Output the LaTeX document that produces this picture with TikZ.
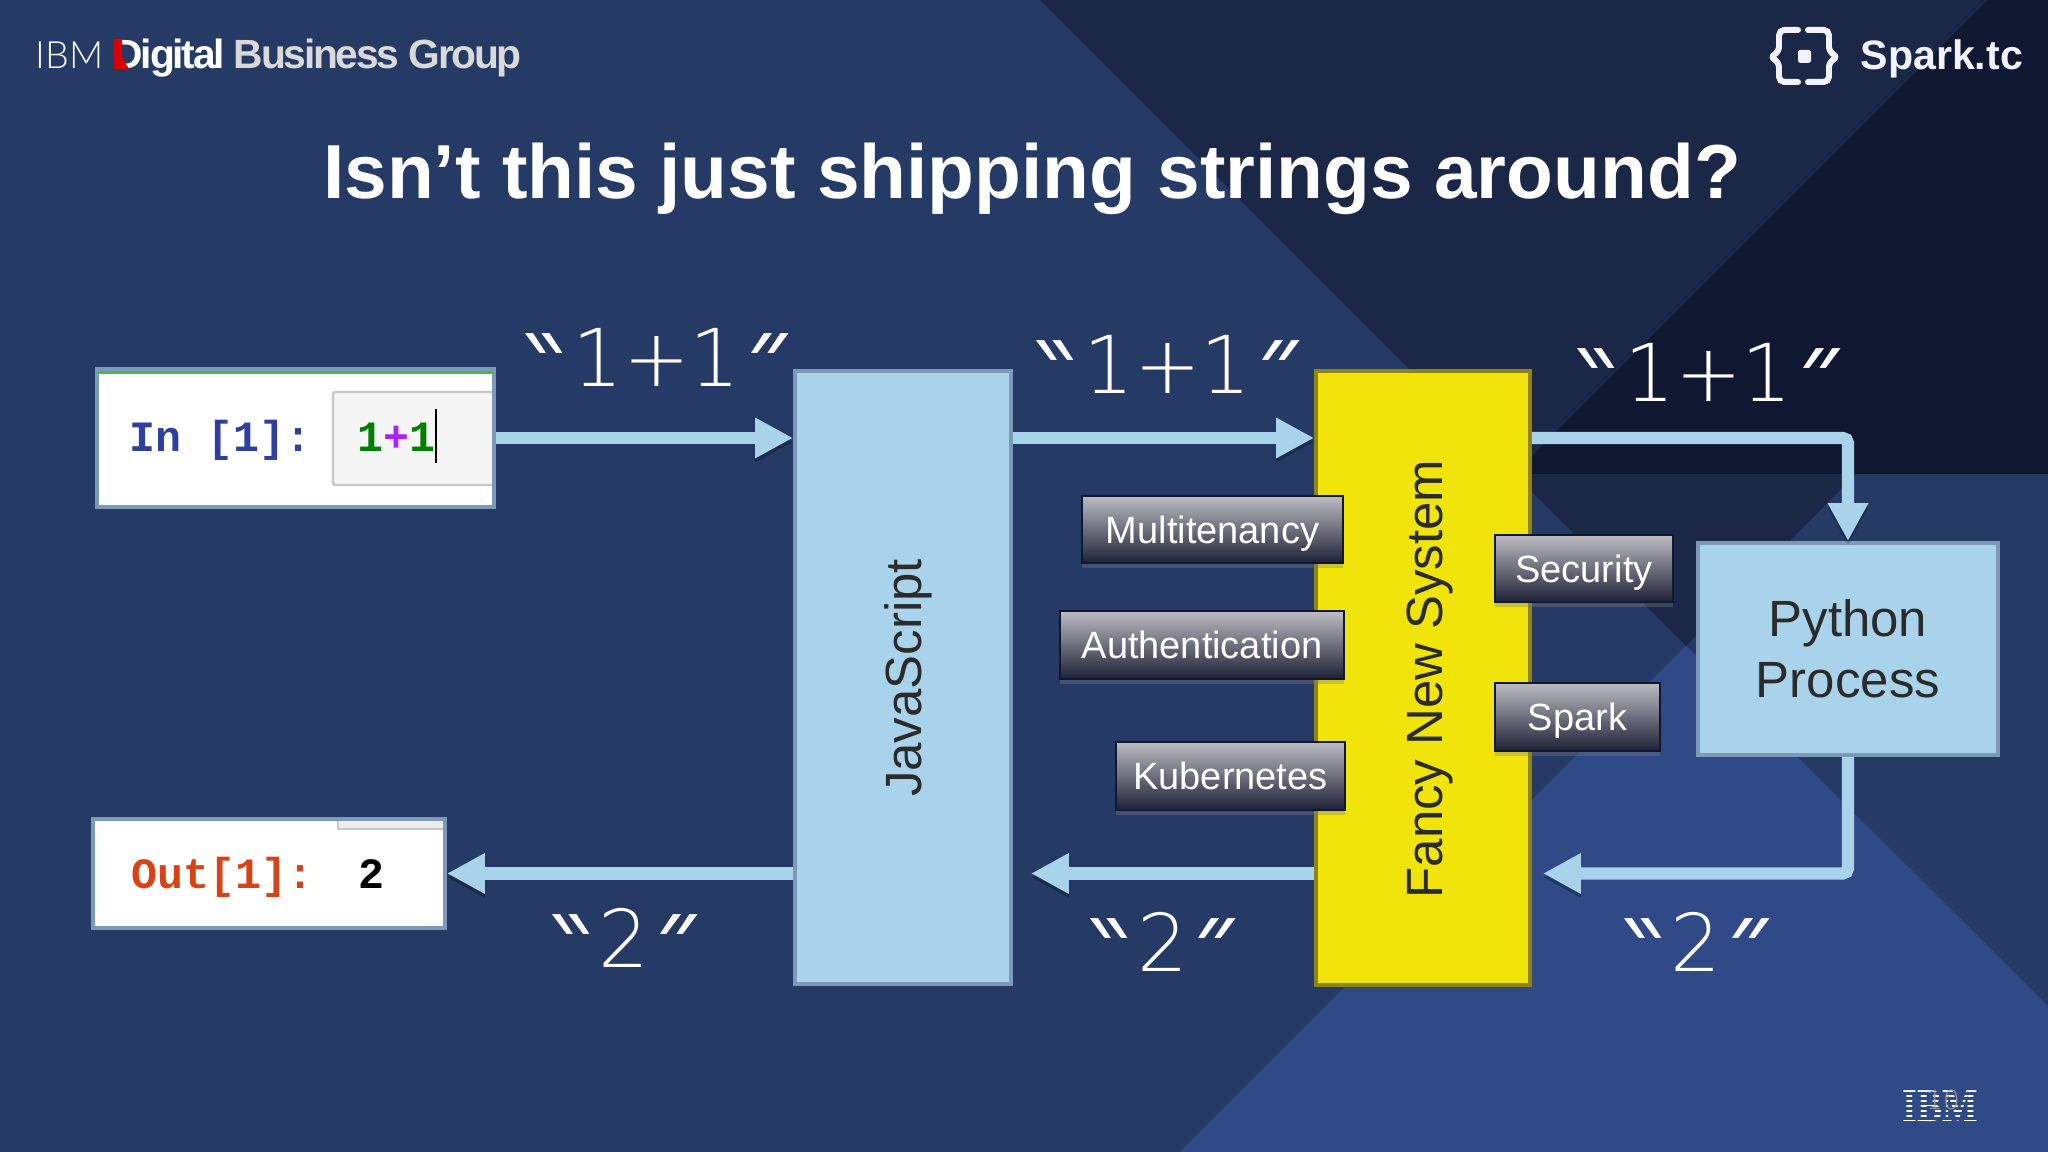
\documentclass[tikz,border=0pt]{standalone}
\usepackage{xcolor}
\usepackage{fontspec}
\usepackage{tikz}
\usetikzlibrary{arrows.meta,shadows}
\setmainfont{Liberation Sans}
\setmonofont{Liberation Mono}
\IfFontExistsTF{DejaVu Sans ExtraLight}{\newfontfamily\thinfont{DejaVu Sans ExtraLight}}{\newfontfamily\thinfont{DejaVu Sans}}
\IfFontExistsTF{Lato Light}{\newfontfamily\lightfont{Lato Light}}{\newfontfamily\lightfont{Lato}}
\newfontfamily\logofont[LetterSpace=-5.5]{Liberation Sans}
\newfontfamily\ibmfont[FakeStretch=0.8]{Liberation Serif}
\newfontfamily\qleftfont[FakeSlant=-0.7]{Liberation Sans}
\newfontfamily\qrightfont[FakeSlant=0.7]{Liberation Sans}
\newcommand{\quoted}[1]{%
  \llap{\raisebox{-0.1cm}{\qleftfont\fontsize{26}{30}\selectfont"}\hspace{-0.26cm}}%
  #1%
  \rlap{\hspace{-0.24cm}\raisebox{-0.1cm}{\qrightfont\fontsize{26}{30}\selectfont"}}%
}
\definecolor{basebg}{HTML}{263A66}
\definecolor{darkbg}{HTML}{1A2747}
\definecolor{deepbg}{HTML}{101730}
\definecolor{lightbg}{HTML}{2F4A86}
\definecolor{skyfill}{HTML}{A9D3EB}
\definecolor{skyedge}{HTML}{7C9AB5}
\definecolor{fancyfill}{HTML}{F0E40A}
\definecolor{fancyedge}{HTML}{8F8314}
\definecolor{inkdark}{HTML}{2B2B2B}
\definecolor{promptblue}{HTML}{303F9F}
\definecolor{promptred}{HTML}{D84315}
\definecolor{plusviolet}{HTML}{AA22FF}
\definecolor{tagtop}{HTML}{BCBCC2}
\definecolor{tagmid}{HTML}{909093}
\definecolor{tagbot}{HTML}{1E2136}
\tikzset{
  skybox/.style={draw=skyedge, fill=skyfill, line width=1.1pt, inner sep=0pt},
  cellbox/.style={draw=skyedge, fill=white, line width=1.1pt, inner sep=0pt},
  tagbox/.style={
    draw=deepbg,
    line width=0.6pt,
    top color=tagtop,
    middle color=tagmid,
    bottom color=tagbot,
    inner sep=0pt,
    text=white,
    text height=0.28cm,
    text depth=0cm,
    font=\fontsize{10.8}{13}\selectfont,
    drop shadow={shadow xshift=0pt, shadow yshift=-0.05cm, opacity=0.35},
  },
  flowarrow/.style={
    draw=skyfill,
    line width=3.5pt,
    rounded corners=1.5pt,
    -{Triangle[width=0.38cm, length=0.38cm]},
    preaction={draw=black, opacity=0.25, transform canvas={yshift=-0.04cm}},
  },
  strlabel/.style={
    anchor=base,
    text=white,
    inner sep=0pt,
    font=\thinfont\fontsize{22.7}{26}\selectfont,
  },
  codetext/.style={anchor=base west, inner sep=0pt, font=\ttfamily\bfseries\fontsize{12.3}{14}\selectfont},
}
\begin{document}
\begin{tikzpicture}
  \useasboundingbox (0, 0) rectangle (20.48, 11.52);

  \fill[basebg] (0, 0) rectangle (20.48, 11.52);
  \fill[darkbg] (10.40, 11.52) -- (20.48, 11.52) -- (20.48, 6.78) -- (18.56, 6.78) -- (16.86, 5.06) -- cycle;
  \fill[deepbg] (19.88, 11.52) -- (20.48, 11.52) -- (20.48, 6.78) -- (15.14, 6.78) -- cycle;
  \fill[lightbg] (16.86, 5.06) -- (20.48, 1.46) -- (20.48, 0) -- (11.80, 0) -- cycle;

  \node[anchor=base, text=white, inner sep=0pt, font=\bfseries\fontsize{21.8}{26}\selectfont]
    (title) at (10.32, 9.53) {Isn’t this just shipping strings around?};

  \node[anchor=base west, text=white, inner sep=0pt, font=\lightfont\fontsize{10.7}{14}\selectfont]
    (ibmword) at (0.35, 10.83) {IBM};
  \node[anchor=base west, text=white, inner sep=0pt, font=\logofont\bfseries\fontsize{11.6}{14}\selectfont]
    (groupword) at (1.13, 10.83) {Digital \textcolor{white!85!black}{Business Group}};
  \fill[red!85!black] (1.14, 11.13) -- (1.22, 11.13) -- (1.22, 10.95) -- (1.29, 10.83) -- (1.14, 10.83) -- cycle;

  \begin{scope}[draw=white!95!blue, line width=1.7pt, line cap=round, rounded corners=1.5pt]
    \draw (17.98, 11.22) -- (17.79, 11.22) -- (17.79, 11.00) -- (17.70, 10.95) -- (17.79, 10.90) -- (17.79, 10.70) -- (17.98, 10.70);
    \draw (18.08, 11.22) -- (18.29, 11.22) -- (18.29, 11.00) -- (18.38, 10.95) -- (18.29, 10.90) -- (18.29, 10.70) -- (18.08, 10.70);
  \end{scope}
  \fill[white!95!blue, rounded corners=0.5pt] (17.98, 10.89) rectangle (18.11, 11.02);
  \node[anchor=base west, text=white!95!blue, inner sep=0pt, font=\bfseries\fontsize{11.7}{14}\selectfont]
    (sparkword) at (18.60, 10.82) {Spark.tc};

  \node[anchor=base, inner sep=0pt, text=white, font=\ibmfont\bfseries\fontsize{13.4}{15}\selectfont]
    (ibmmark) at (19.405, 0.30) {IBM};
  \foreach \y in {0.335, 0.385, 0.435, 0.485, 0.535, 0.585} {
    \draw[lightbg, line width=0.7pt] (18.95, \y) -- (19.85, \y);
  }
  \node[anchor=base, inner sep=0pt, text=white!60!black, font=\thinfont\fontsize{7.5}{9}\selectfont]
    (pagenum) at (19.43, 0.42) {10};

  \node[cellbox, minimum width=3.97cm, minimum height=1.38cm] (inbox) at (2.955, 7.14) {};
  \fill[white!96!black] (3.33, 7.60) rectangle (4.92, 6.67);
  \draw[black!22, line width=0.7pt, rounded corners=0.5pt] (4.92, 7.60) -- (3.33, 7.60) -- (3.33, 6.67) -- (4.92, 6.67);
  \draw[green!60!black!70!white, line width=0.8pt] (0.98, 7.795) -- (4.94, 7.795);
  \node[codetext, text=promptblue] (inprompt) at (1.29, 7.00) {In [1]:};
  \node[codetext, text=green!50!black] (incode) at (3.57, 7.00) {1\textcolor{plusviolet}{+}1};
  \coordinate (cursortop) at (4.36, 7.43);
  \coordinate (cursorbot) at (4.36, 6.89);
  \draw[black, line width=0.8pt] (cursortop) -- (cursorbot);

  \node[cellbox, minimum width=3.52cm, minimum height=1.09cm] (outbox) at (2.69, 2.785) {};
  \fill[white!93!black] (3.38, 3.31) rectangle (4.43, 3.23);
  \draw[black!22, line width=0.7pt] (3.38, 3.31) -- (3.38, 3.23) -- (4.43, 3.23);
  \node[codetext, text=promptred] (outprompt) at (1.31, 2.63) {Out[1]:};
  \node[codetext, text=black] (outcode) at (3.58, 2.63) {2};

  \node[skybox, minimum width=2.16cm, minimum height=6.13cm] (jsbox) at (9.03, 4.745) {};
  \node[
    draw=fancyedge,
    fill=fancyfill,
    line width=1.1pt,
    inner sep=0pt,
    minimum width=2.14cm,
    minimum height=6.14cm,
  ] (fancybox) at (14.23, 4.74) {};
  \node[
    skybox,
    minimum width=3cm,
    minimum height=2.12cm,
    text=inkdark,
    align=center,
    font=\fontsize{14.5}{17.4}\selectfont,
  ] (pybox) at (18.48, 5.03) {Python\\Process};

  \node[anchor=base, rotate=90, inner sep=0pt, text=inkdark, font=\fontsize{14.5}{17}\selectfont]
    (jslabel) at (9.21, 4.74) {JavaScript};
  \node[anchor=base, rotate=90, inner sep=0pt, text=inkdark, font=\fontsize{14.5}{17}\selectfont]
    (fancylabel) at (14.42, 4.73) {Fancy New System};

  \draw[flowarrow] (inbox.east) -- (jsbox.west |- inbox.east);
  \draw[flowarrow] (jsbox.east |- inbox.east) -- (fancybox.west |- inbox.east);
  \draw[flowarrow] (fancybox.east |- inbox.east) -| (pybox.north);
  \draw[flowarrow, shorten >=0.11cm] (pybox.south) |- (fancybox.east |- outbox.east);
  \draw[flowarrow, shorten >=0.18cm] (fancybox.west |- outbox.east) -- (jsbox.east |- outbox.east);
  \draw[flowarrow] (jsbox.west |- outbox.east) -- (outbox.east);

  \node[tagbox, minimum width=2.61cm, minimum height=0.67cm] (multitag) at (12.125, 6.225) {Multitenancy};
  \node[tagbox, minimum width=2.84cm, minimum height=0.68cm] (authtag) at (12.02, 5.07) {Authentication};
  \node[tagbox, minimum width=2.29cm, minimum height=0.68cm] (kubetag) at (12.305, 3.76) {Kubernetes};
  \node[tagbox, minimum width=1.78cm, minimum height=0.67cm] (sectag) at (15.84, 5.835) {Security};
  \node[tagbox, minimum width=1.65cm, minimum height=0.68cm] (sparktag) at (15.775, 4.35) {Spark};

  \node[strlabel] (strone) at (6.565, 7.65) {\quoted{1+1}};
  \node[strlabel] (strtwo) at (11.675, 7.58) {\quoted{1+1}};
  \node[strlabel] (strthree) at (17.085, 7.50) {\quoted{1+1}};
  \node[strlabel] (resone) at (16.96, 1.80) {\quoted{2}};
  \node[strlabel] (restwo) at (11.625, 1.80) {\quoted{2}};
  \node[strlabel] (resthree) at (6.24, 1.84) {\quoted{2}};
\end{tikzpicture}
\end{document}
